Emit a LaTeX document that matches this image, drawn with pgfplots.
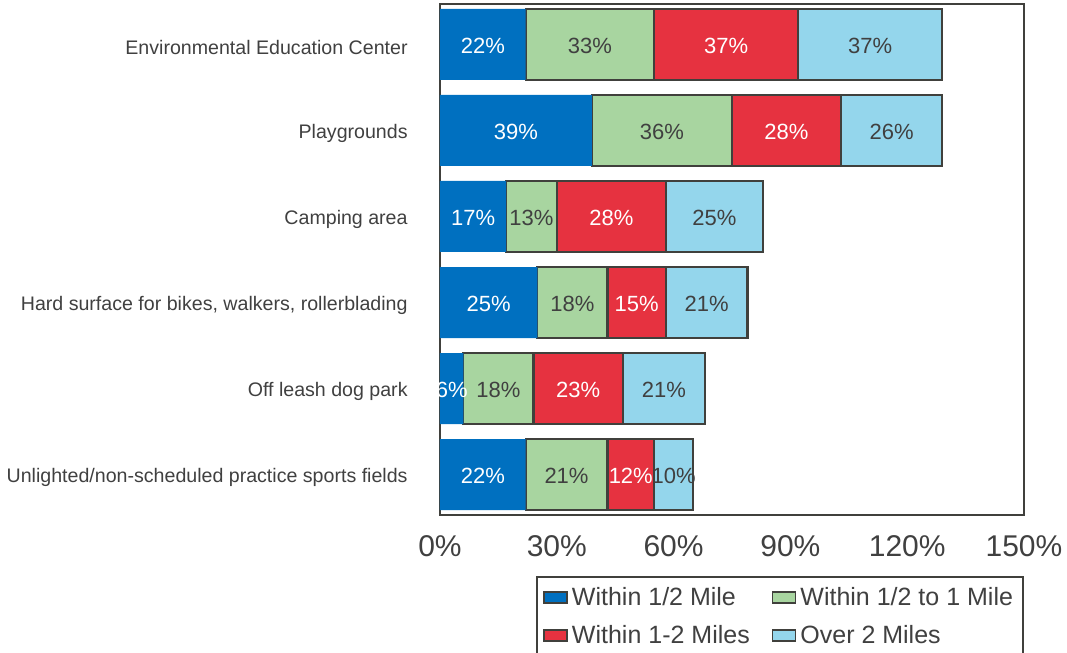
\documentclass[border=0pt]{standalone}
\usepackage{pgfplots}
\usepackage{pgfplotstable}
\pgfplotsset{compat=1.18}
\usepackage{fontspec}
\setmainfont{Liberation Sans}
\definecolor{cblue}{RGB}{0,112,192}
\definecolor{cgreen}{RGB}{168,213,160}
\definecolor{cred}{RGB}{230,50,64}
\definecolor{clight}{RGB}{148,214,236}
\definecolor{edge}{RGB}{64,64,60}
\definecolor{txt}{RGB}{64,64,64}

% values (percent)
\pgfplotstableread{
cat a b c d
0 22 33 37 37
1 39 36 28 26
2 17 13 28 25
3 25 18 15 21
4 6 18 23 21
5 22 21 12 10
}\datatable

% label positions (segment midpoints) and values
\pgfplotstableread{
cat ma va mb vb mc vc md vd
0 11 22 38.5 33 73.5 37 110.5 37
1 19.5 39 57 36 89 28 116 26
2 8.5 17 23.5 13 44 28 70.5 25
3 12.5 25 34 18 50.5 15 68.5 21
4 3 6 15 18 35.5 23 57.5 21
5 11 22 32.5 21 49 12 60 10
}\labeltable

\begin{document}
\begin{tikzpicture}
\pgfplotsset{
  common/.style={
    width=292pt, height=255.5pt, scale only axis,
    xmin=0, xmax=150, ymin=-0.47, ymax=5.47, y dir=reverse,
  },
  lbl/.style={
    xbar, bar shift=0pt, bar width=0pt, draw=none, fill=none,
    nodes near coords={\pgfmathprintnumber{\pgfplotspointmeta}\%},
    point meta=explicit,
    every node near coord/.append style={anchor=center, font=\fontsize{11}{13}\selectfont, text=#1, yshift=-0.5pt},
  },
}
\begin{axis}[common,
  xbar stacked, bar width=35.5pt,
  axis line style={edge, line width=1.25pt},
  xtick={0,30,...,150},
  xticklabel={\pgfmathprintnumber{\tick}\%},
  major tick length=0pt,
  ytick={0,...,5},
  yticklabels={Environmental Education Center\ , Playgrounds, Camping area, {Hard surface for bikes, walkers, rollerblading}, Off leash dog park\hspace{2pt}, Unlighted/non-scheduled practice sports fields},
  yticklabel style={font=\fontsize{9.8}{11}\selectfont, text=txt, inner sep=0pt, xshift=-16pt, yshift=-1.5pt},
  xticklabel style={font=\fontsize{15}{18}\selectfont, text=txt, yshift=-6.5pt},
  /pgf/number format/assume math mode=true,
  legend columns=2,
  legend cell align=left,
  legend image code/.code={\draw[#1, draw=edge, line width=0.8pt] (0pt,-2.7pt) rectangle (11.5pt,2.7pt);},
  legend style={at={(1,0)}, anchor=north east, yshift=-30.5pt, draw=edge, line width=1pt,
    font=\fontsize{12.5}{14}\selectfont, text=txt, inner xsep=3pt, inner ysep=3pt, row sep=4.5pt,
    /tikz/every even column/.append style={column sep=9pt},
    /tikz/every odd column/.append style={column sep=0pt}},
]
\coordinate (bbsw) at (rel axis cs:0,0);
\coordinate (bbne) at (rel axis cs:1,1);
\addplot[fill=cblue, draw=none] table[x=a, y=cat] {\datatable};
\addplot[fill=cgreen, draw=edge, line width=1.1pt] table[x=b, y=cat] {\datatable};
\addplot[fill=cred, draw=edge, line width=1.1pt] table[x=c, y=cat] {\datatable};
\addplot[fill=clight, draw=edge, line width=1.1pt] table[x=d, y=cat] {\datatable};
\legend{Within 1/2 Mile, Within 1/2 to 1 Mile, Within 1-2 Miles, Over 2 Miles}
\end{axis}
\begin{axis}[common, hide axis, /pgf/number format/assume math mode=true]
\addplot[lbl=white] table[x=ma, y=cat, meta=va] {\labeltable};
\addplot[lbl=txt] table[x=mb, y=cat, meta=vb] {\labeltable};
\addplot[lbl=white] table[x=mc, y=cat, meta=vc] {\labeltable};
\addplot[lbl=txt] table[x=md, y=cat, meta=vd] {\labeltable};
\end{axis}
\pgfresetboundingbox
\path ([xshift=-220pt,yshift=-69pt]bbsw) rectangle ([xshift=21.5pt,yshift=2pt]bbne);
\end{tikzpicture}
\end{document}
